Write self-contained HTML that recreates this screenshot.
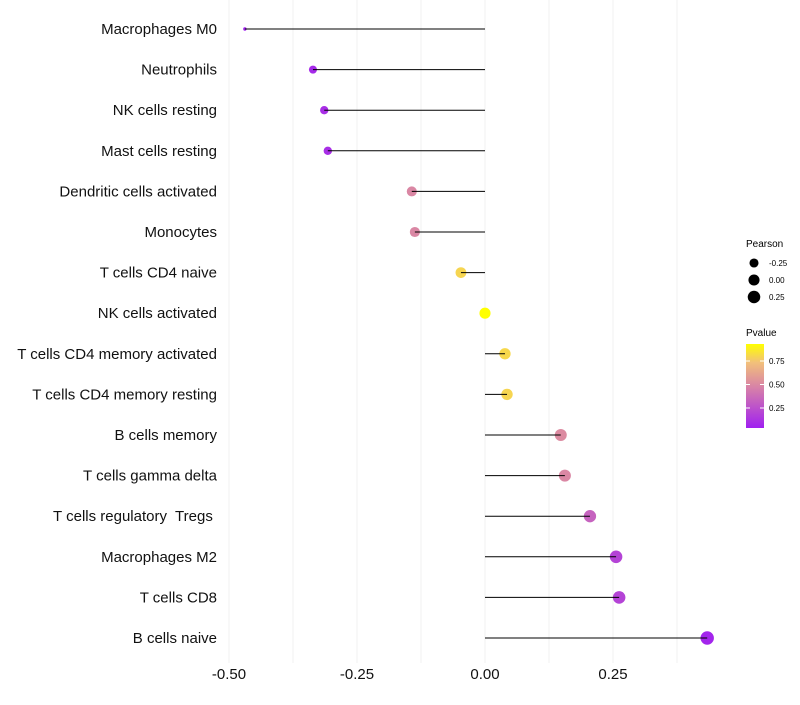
<!DOCTYPE html>
<html><head><meta charset="utf-8"><style>
body{margin:0;background:#fff;font-family:"Liberation Sans",sans-serif}
</style></head><body>
<svg id="chart" width="800" height="700" xmlns="http://www.w3.org/2000/svg">
<g id="grid"></g><g id="marks"></g><g id="ylabels"></g><g id="xlabels"></g>
<g id="legend">
<text x="746" y="247" font-size="10" fill="#000">Pearson</text>
<g id="sizeleg"></g>
<text x="746" y="336" font-size="10" fill="#000">Pvalue</text>
<defs><linearGradient id="pg" x1="0" y1="1" x2="0" y2="0">
<stop offset="0" stop-color="#A020F0"/><stop offset="0.5" stop-color="#D985A5"/><stop offset="0.78" stop-color="#F2C07A"/><stop offset="1" stop-color="#FFFF00"/></linearGradient></defs>
<rect x="746" y="344" width="18" height="84" fill="url(#pg)"/>
<g id="colorleg"></g>
</g>
</svg>
<script>
const categories=["Macrophages M0","Neutrophils","NK cells resting","Mast cells resting","Dendritic cells activated","Monocytes","T cells CD4 naive","NK cells activated","T cells CD4 memory activated","T cells CD4 memory resting","B cells memory","T cells gamma delta","T cells regulatory  Tregs ","Macrophages M2","T cells CD8","B cells naive"];
const pearson=[-0.469,-0.336,-0.314,-0.307,-0.143,-0.137,-0.047,0.0,0.039,0.043,0.148,0.156,0.205,0.256,0.262,0.434];
const pvalue=[0.04,0.08,0.1,0.1,0.52,0.52,0.85,0.99,0.86,0.85,0.54,0.52,0.35,0.2,0.2,0.06];
const xTicks=[-0.5,-0.25,0,0.25];
const xTickLabels=["-0.50","-0.25","0.00","0.25"];
const sizeLegVals=[-0.25,0,0.25];
const sizeLegLabels=["-0.25","0.00","0.25"];
const colorLegVals=[0.25,0.5,0.75];
const colorLegLabels=["0.25","0.50","0.75"];

const NS="http://www.w3.org/2000/svg";
const x=v=>485+v*512;
const y=i=>29+i*40.6;
const pmin=Math.min(...pearson),pmax=Math.max(...pearson);
const r=v=>{const t=Math.max(0,(v-pmin)/(pmax-pmin));return 0.7+(1+5*Math.pow(t,0.4));};
const stops=[[0,[160,32,240]],[0.5,[217,133,165]],[0.78,[242,192,122]],[1,[255,255,0]]];
function col(p){let t=Math.max(0,Math.min(1,(p-0.035)/(0.99-0.035)));
for(let k=1;k<stops.length;k++){if(t<=stops[k][0]){const a=stops[k-1],b=stops[k],f=(t-a[0])/(b[0]-a[0]);
return "rgb("+a[1].map((c,j)=>Math.round(c+(b[1][j]-c)*f)).join(",")+")";}}return "rgb(255,255,0)";}
function mk(tag,attrs,parent){const e=document.createElementNS(NS,tag);for(const k in attrs)e.setAttribute(k,attrs[k]);document.getElementById(parent).appendChild(e);return e;}
for(let v=-0.5;v<=0.38;v+=0.125){const g=mk("line",{x1:x(v),x2:x(v),y1:0,y2:663,stroke:"#f2f2f2","stroke-width":1},"grid");

}
categories.forEach((c,i)=>{
const pt=mk("circle",{cx:x(pearson[i]),cy:y(i),r:r(pearson[i]),fill:col(pvalue[i])},"marks");


const ln=mk("line",{x1:x(0),x2:x(pearson[i]),y1:y(i),y2:y(i),stroke:"#000","stroke-width":1},"marks");


const t=mk("text",{x:217,y:y(i)+5,"text-anchor":"end","font-size":15,fill:"#111",style:"white-space:pre"},"ylabels");
t.textContent=c;


});
xTicks.forEach((v,i)=>{const t=mk("text",{x:x(v),y:679,"text-anchor":"middle","font-size":15,fill:"#111"},"xlabels");
t.textContent=xTickLabels[i];

});
sizeLegVals.forEach((v,i)=>{const yy=263+i*17;
const c=mk("circle",{cx:754,cy:yy,r:r(v),fill:"#000"},"sizeleg");


const t=mk("text",{x:769,y:yy+3,"font-size":8,fill:"#000"},"sizeleg");t.textContent=sizeLegLabels[i];

});
colorLegVals.forEach((v,i)=>{const yy=431.5-v*94;
mk("line",{x1:746,x2:750,y1:yy,y2:yy,stroke:"#fff"},"colorleg");mk("line",{x1:760,x2:764,y1:yy,y2:yy,stroke:"#fff"},"colorleg");
const t=mk("text",{x:769,y:yy+3,"font-size":8,fill:"#000"},"colorleg");t.textContent=colorLegLabels[i];

});
</script>
</body></html>
